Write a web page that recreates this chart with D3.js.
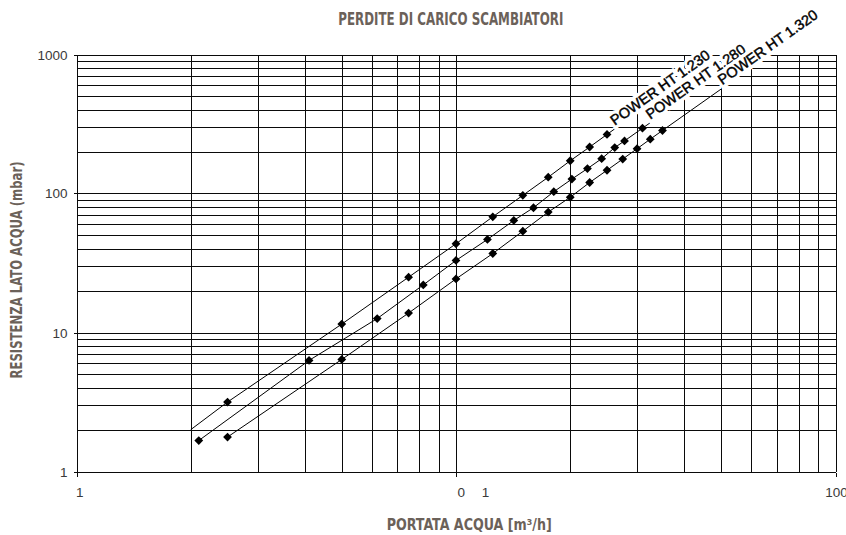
<!DOCTYPE html>
<html>
<head>
<meta charset="utf-8">
<script src="https://cdn.jsdelivr.net/npm/d3@7"></script>
<style>
  body { margin: 0; background: #fff; }
  svg { display: block; }
</style>
</head>
<body>
<svg id="chart" width="846" height="535"></svg>
<script>
// ---------- data ----------
const chartTitle = "PERDITE DI CARICO SCAMBIATORI";
const xAxisTitle = "PORTATA ACQUA [m³/h]";
const yAxisTitle = "RESISTENZA LATO ACQUA (mbar)";

const seriesNames = ["POWER HT 1.230", "POWER HT 1.280", "POWER HT 1.320"];

// POWER HT 1.230
const flow1230 = [2.5, 5, 7.5, 10, 12.5, 15, 17.5, 20, 22.5, 25];
const drop1230 = [3.16, 11.5, 25, 43.5, 68, 97, 131, 172, 216, 266];
const lineStart1230 = [2, 2.0];
const lineEnd1230 = [26.3, 294];

// POWER HT 1.280
const flow1280 = [2.1, 4.1, 6.2, 8.2, 10, 12.1, 14.2, 16, 18.1, 20.2, 22.2, 24.2, 26.2, 27.8, 31];
const drop1280 = [1.67, 6.3, 12.6, 22, 33, 46.7, 64, 79, 103, 127, 151, 178, 214, 239, 295];
const lineStart1280 = [2.1, 1.67];
const lineEnd1280 = [32.6, 325];

// POWER HT 1.320
const flow1320 = [2.5, 5, 7.5, 10, 12.5, 15, 17.5, 20, 22.5, 25, 27.5, 30, 32.5, 35];
const drop1320 = [1.77, 6.4, 13.8, 24.3, 37, 53.6, 73.5, 94, 120, 147, 177, 210, 246, 284];
const lineStart1320 = [2.5, 1.77];
const lineEnd1320 = [50.5, 576];

const xDomain = [1, 100];
const yDomain = [1, 1000];
const xTickValues = [1, 10, 100];
const xTickLabels = ["1", "0 1", "100"];
const yTickValues = [1, 10, 100, 1000];
const yTickLabels = ["1", "10", "100", "1000"];

// ---------- build ----------
const series = [
  { name: seriesNames[0], xs: flow1230, ys: drop1230, start: lineStart1230, end: lineEnd1230 },
  { name: seriesNames[1], xs: flow1280, ys: drop1280, start: lineStart1280, end: lineEnd1280 },
  { name: seriesNames[2], xs: flow1320, ys: drop1320, start: lineStart1320, end: lineEnd1320 }
].map(s => {
  const pts = s.xs.map((v, i) => ({ x: v, y: s.ys[i] }));
  const line = [{ x: s.start[0], y: s.start[1] }, ...pts.filter(p => p.x > s.start[0] && p.x < s.end[0]), { x: s.end[0], y: s.end[1] }];
  return { name: s.name, pts, line };
});

const svg = d3.select("#chart");
const x = d3.scaleLog().domain(xDomain).range([76.5, 835.5]);
const y = d3.scaleLog().domain(yDomain).range([471.5, 54.5]);

const labelFont = "'Liberation Sans', Arial, Helvetica, sans-serif";
const titleFont = "'Liberation Sans Narrow', 'Arial Narrow', 'DejaVu Sans Condensed', sans-serif";
const titleColor = "#6b6159";
const gridColor = "#0a0a0a";

// grid
const grid = svg.append("g").attr("shape-rendering", "crispEdges").attr("stroke", gridColor).attr("stroke-width", 1);
grid.selectAll("line.v").data(x.ticks()).join("line")
  .attr("class", "v")
  .attr("x1", d => Math.round(x(d)) + 0.5).attr("x2", d => Math.round(x(d)) + 0.5)
  .attr("y1", y(yDomain[1])).attr("y2", y(yDomain[0]));
grid.selectAll("line.h").data(y.ticks()).join("line")
  .attr("class", "h")
  .attr("y1", d => Math.round(y(d)) + 0.5).attr("y2", d => Math.round(y(d)) + 0.5)
  .attr("x1", x(xDomain[0])).attr("x2", x(xDomain[1]));

// axes
const yAxis = d3.axisLeft(y).tickValues(yTickValues)
  .tickFormat((d, i) => yTickLabels[i]).tickSize(4).tickSizeOuter(0).tickPadding(6)
  .offset(0);
const gy = svg.append("g").attr("transform", `translate(${Math.round(x(xDomain[0])) + 0.5},0)`).call(yAxis);
gy.selectAll(".tick").attr("transform", d => `translate(0,${Math.round(y(d)) + 0.5})`);
gy.select(".domain").attr("stroke", gridColor).attr("shape-rendering", "crispEdges");
gy.selectAll(".tick line").attr("stroke", gridColor).attr("shape-rendering", "crispEdges");
gy.selectAll(".tick text").attr("font-family", labelFont).attr("font-size", 13.5).attr("fill", "#3a3a3a");

const xAxis = d3.axisBottom(x).tickValues(xTickValues)
  .tickFormat((d, i) => xTickLabels[i]).tickSize(4).tickSizeOuter(0).tickPadding(11)
  .offset(0);
const gx = svg.append("g").attr("transform", `translate(0,${Math.round(y(yDomain[0])) + 0.5})`).call(xAxis);
gx.selectAll(".tick").attr("transform", d => `translate(${Math.round(x(d)) + 0.5},0)`);
gx.select(".domain").attr("stroke", gridColor).attr("shape-rendering", "crispEdges");
gx.selectAll(".tick line").attr("stroke", gridColor).attr("shape-rendering", "crispEdges");
gx.selectAll(".tick text").attr("font-family", labelFont).attr("font-size", 13.5).attr("fill", "#3a3a3a")
  .each(function (d, i) {
    const t = d3.select(this);
    const parts = xTickLabels[i].split(" ");
    if (parts.length > 1) {
      t.text(parts[0]).attr("text-anchor", "start").attr("x", 1);
      t.append("tspan").attr("dx", 13).text(" " + parts.slice(1).join(" "));
    } else if (i === 0) {
      t.attr("text-anchor", "start").attr("x", -1.5);
    }
  });
gx.attr("font-size", null).attr("font-family", null);
gy.attr("font-size", null).attr("font-family", null);

// series lines
const lineGen = d3.line().x(d => x(d.x)).y(d => y(d.y));
svg.append("g").selectAll("path").data(series).join("path")
  .attr("d", d => lineGen(d.line))
  .attr("fill", "none").attr("stroke", "#000").attr("stroke-width", 1);

// series labels (white halo over grid, then text)
const labelTransform = d => {
  const a = d.line[0], b = d.line[d.line.length - 1];
  const ang = Math.atan2(y(b.y) - y(a.y), x(b.x) - x(a.x)) * 180 / Math.PI;
  return `translate(${x(b.x)},${y(b.y)}) rotate(${ang})`;
};
const labels = svg.append("g").selectAll("g").data(series).join("g")
  .attr("transform", labelTransform);
labels.append("text")
  .attr("x", 1).attr("y", -2.5)
  .attr("font-family", labelFont).attr("font-size", 14.5)
  .attr("fill", "#fff").attr("stroke", "#fff").attr("stroke-width", 7)
  .attr("stroke-linejoin", "miter")
  .text(d => d.name);
labels.append("text")
  .attr("x", 1).attr("y", -2.5)
  .attr("font-family", labelFont).attr("font-size", 14.5)
  .attr("fill", "#000").attr("stroke", "#000").attr("stroke-width", 0.45)
  .text(d => d.name);

// markers
svg.append("g").selectAll("g").data(series).join("g")
  .selectAll("path").data(d => d.pts).join("path")
  .attr("d", "M0,-4.4L4.4,0L0,4.4L-4.4,0Z")
  .attr("transform", d => `translate(${x(d.x)},${y(d.y)})`)
  .attr("fill", "#000");

// titles
svg.append("text")
  .attr("x", 450.8).attr("y", 25)
  .attr("text-anchor", "middle")
  .attr("font-family", titleFont).attr("font-weight", "bold").attr("font-size", 18.5)
  .attr("textLength", 225).attr("lengthAdjust", "spacingAndGlyphs")
  .attr("fill", titleColor)
  .text(chartTitle);

svg.append("text")
  .attr("x", 469.2).attr("y", 530)
  .attr("text-anchor", "middle")
  .attr("font-family", titleFont).attr("font-weight", "bold").attr("font-size", 16)
  .attr("textLength", 165).attr("lengthAdjust", "spacingAndGlyphs")
  .attr("fill", titleColor)
  .text(xAxisTitle);

svg.append("text")
  .attr("transform", "translate(22,270) rotate(-90)")
  .attr("text-anchor", "middle")
  .attr("font-family", titleFont).attr("font-weight", "bold").attr("font-size", 16.5)
  .attr("textLength", 217).attr("lengthAdjust", "spacingAndGlyphs")
  .attr("fill", titleColor)
  .text(yAxisTitle);
</script>
</body>
</html>
